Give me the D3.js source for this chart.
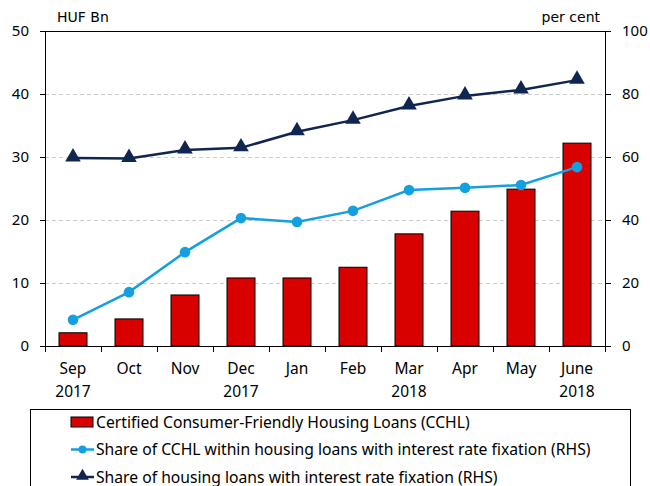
<!DOCTYPE html>
<html>
<head>
<meta charset="utf-8">
<script src="https://cdn.jsdelivr.net/npm/d3@7"></script>
<style>
  body { margin: 0; background: #fff; }
  text { font-family: "Noto Sans", "Open Sans", sans-serif; fill: #000; }
</style>
</head>
<body>
<script>
// chart data
var months = ["Sep", "Oct", "Nov", "Dec", "Jan", "Feb", "Mar", "Apr", "May", "June"];
var years = ["2017", "", "", "2017", "", "", "2018", "", "", "2018"];
var cchl = [2.1, 4.3, 8.1, 10.8, 10.8, 12.5, 17.8, 21.4, 24.9, 32.2];      // HUF Bn
var cchlShare = [8.3, 17.1, 29.8, 40.6, 39.4, 42.9, 49.5, 50.2, 51.1, 56.8]; // per cent
var fixShare = [59.7, 59.5, 62.2, 62.9, 68.0, 71.7, 76.2, 79.4, 81.3, 84.4]; // per cent
var leftTicks = [0, 10, 20, 30, 40, 50];
var rightTicks = [0, 20, 40, 60, 80, 100];
var legendLabels = [
    "Certified Consumer-Friendly Housing Loans (CCHL)",
    "Share of CCHL within housing loans with interest rate fixation (RHS)",
    "Share of housing loans with interest rate fixation (RHS)"
];

function drawChart() {
    var red = "#d90000", lightBlue = "#14a0e0", navy = "#10254f";

    var svg = d3.select("body").append("svg")
        .attr("width", 650)
        .attr("height", 486);

    var pLeft = 45, pRight = 605, pTop = 31, pBottom = 346;

    var x = d3.scaleBand().domain(months.map(function (d, i) { return i; }))
        .range([pLeft, pRight]).paddingInner(0.5).paddingOuter(0.25);
    var yL = d3.scaleLinear().domain([0, 50]).range([pBottom, pTop]);
    var yR = d3.scaleLinear().domain([0, 100]).range([pBottom, pTop]);
    var step = x.step();
    var cx = function (i) { return x(i) + x.bandwidth() / 2; };

    // grid
    svg.append("g").selectAll("line")
        .data(leftTicks.filter(function (d) { return d > 0 && d < 50; }))
        .enter().append("line")
        .attr("x1", pLeft).attr("x2", pRight)
        .attr("y1", function (d) { return Math.round(yL(d)) + 0.5; })
        .attr("y2", function (d) { return Math.round(yL(d)) + 0.5; })
        .attr("stroke", "#cccccc")
        .attr("stroke-width", 1.2)
        .attr("stroke-dasharray", "4,3");

    // bars
    svg.append("g").selectAll("rect")
        .data(cchl)
        .enter().append("rect")
        .attr("x", function (d, i) { return x(i); })
        .attr("y", function (d) { return yL(d); })
        .attr("width", x.bandwidth())
        .attr("height", function (d) { return pBottom - yL(d); })
        .attr("fill", red)
        .attr("stroke", "#000")
        .attr("stroke-width", 1);

    // frame
    svg.append("rect")
        .attr("x", pLeft + 0.5).attr("y", pTop + 0.5)
        .attr("width", pRight - pLeft).attr("height", pBottom - pTop)
        .attr("fill", "none").attr("stroke", "#000").attr("stroke-width", 1);

    // left axis
    var gl = svg.append("g").attr("transform", "translate(" + pLeft + ",0)")
        .call(d3.axisLeft(yL).tickValues(leftTicks).tickSize(5).tickPadding(11));
    gl.select(".domain").remove();
    gl.selectAll("text").style("font-size", "15px").style("font-family", "Noto Sans");

    // right axis
    var gr = svg.append("g").attr("transform", "translate(" + pRight + ",0)")
        .call(d3.axisRight(yR).tickValues(rightTicks).tickSize(6).tickPadding(11));
    gr.select(".domain").remove();
    gr.selectAll("text").style("font-size", "15px").style("font-family", "Noto Sans");

    // x ticks at category boundaries
    function edge(i) { return Math.round(pLeft + i * step) + 0.5; }
    svg.append("g").selectAll("line")
        .data(d3.range(months.length + 1))
        .enter().append("line")
        .attr("x1", edge)
        .attr("x2", edge)
        .attr("y1", pBottom).attr("y2", pBottom + 6)
        .attr("stroke", "#000");

    var xl = svg.append("g").selectAll("g")
        .data(months)
        .enter().append("g")
        .attr("transform", function (d, i) { return "translate(" + cx(i) + ",0)"; });
    xl.append("text").attr("y", 374).attr("text-anchor", "middle")
        .style("font-size", "15.5px").text(function (d) { return d; });
    xl.append("text").attr("y", 397).attr("text-anchor", "middle")
        .style("font-size", "15.5px").text(function (d, i) { return years[i]; });

    // unit labels
    svg.append("text").attr("x", 57).attr("y", 22)
        .style("font-family", "DejaVu Sans").style("font-size", "14px").text("HUF Bn");
    svg.append("text").attr("x", 600).attr("y", 22).attr("text-anchor", "end")
        .style("font-family", "DejaVu Sans").style("font-size", "14px").text("per cent");

    // lines on the right axis
    var lineR = d3.line()
        .x(function (d, i) { return cx(i); })
        .y(function (d) { return yR(d); });

    svg.append("path").datum(fixShare)
        .attr("d", lineR).attr("fill", "none")
        .attr("stroke", navy).attr("stroke-width", 2.5);
    svg.append("g").selectAll("path")
        .data(fixShare)
        .enter().append("path")
        .attr("d", d3.symbol().type(d3.symbolTriangle).size(105))
        .attr("transform", function (d, i) { return "translate(" + cx(i) + "," + (yR(d) - 1) + ")"; })
        .attr("fill", navy);

    svg.append("path").datum(cchlShare)
        .attr("d", lineR).attr("fill", "none")
        .attr("stroke", lightBlue).attr("stroke-width", 2.5);
    svg.append("g").selectAll("circle")
        .data(cchlShare)
        .enter().append("circle")
        .attr("cx", function (d, i) { return cx(i); })
        .attr("cy", function (d) { return yR(d); })
        .attr("r", 5.3)
        .attr("fill", lightBlue);

    // legend
    svg.append("rect")
        .attr("x", 30.5).attr("y", 409.5)
        .attr("width", 600).attr("height", 90)
        .attr("fill", "none").attr("stroke", "#000").attr("stroke-width", 1);

    var lg = svg.append("g").selectAll("g")
        .data(legendLabels)
        .enter().append("g")
        .attr("transform", function (d, i) { return "translate(0," + (422 + i * 27.5) + ")"; });

    lg.filter(function (d, i) { return i === 0; }).append("rect")
        .attr("x", 71).attr("y", -5).attr("width", 22).attr("height", 10)
        .attr("fill", red).attr("stroke", "#000");

    lg.filter(function (d, i) { return i > 0; }).append("line")
        .attr("x1", 71).attr("x2", 94).attr("y1", 0).attr("y2", 0)
        .attr("stroke", function (d, i) { return i === 0 ? lightBlue : navy; })
        .attr("stroke-width", 2.5);
    lg.filter(function (d, i) { return i === 1; }).append("circle")
        .attr("cx", 82.5).attr("cy", 0).attr("r", 4).attr("fill", lightBlue);
    lg.filter(function (d, i) { return i === 2; }).append("path")
        .attr("d", d3.symbol().type(d3.symbolTriangle).size(70))
        .attr("transform", "translate(82.5,-1)").attr("fill", navy);

    lg.append("text")
        .attr("x", 96).attr("y", 5.5)
        .style("font-size", "15.7px")
        .text(function (d) { return d; });
}

drawChart();
</script>
</body>
</html>
